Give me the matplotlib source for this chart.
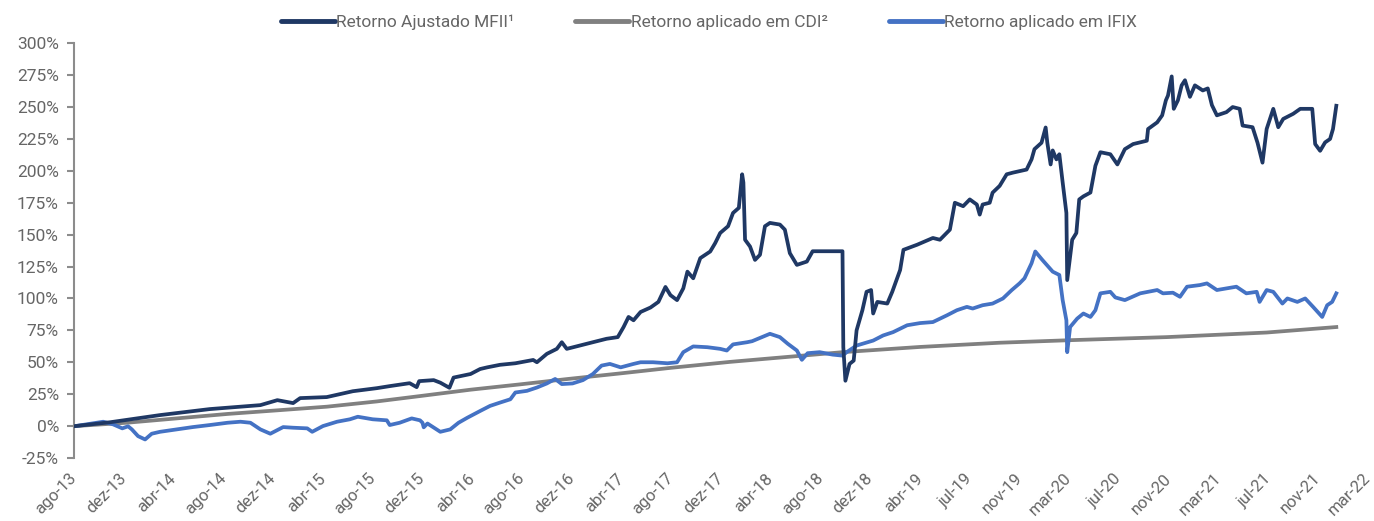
import pandas as pd
import matplotlib.pyplot as plt
from matplotlib.ticker import FuncFormatter

plt.rcParams['font.family'] = ['Roboto', 'DejaVu Sans']

# retorno ajustado MFII (%)
mfii_dates = ["2013-09-02", "2013-11-25", "2014-03-25", "2014-07-23", "2014-11-22", "2015-01-02",
              "2015-02-09", "2015-02-26", "2015-05-01", "2015-07-03", "2015-08-30", "2015-09-30",
              "2015-11-17", "2015-12-04", "2015-12-10", "2016-01-14", "2016-01-30", "2016-02-21",
              "2016-03-02", "2016-04-12", "2016-05-05", "2016-05-22", "2016-06-22", "2016-07-29",
              "2016-09-10", "2016-09-19", "2016-10-13", "2016-11-06", "2016-11-18", "2016-11-30",
              "2016-12-31", "2017-02-01", "2017-03-06", "2017-04-02", "2017-04-16", "2017-04-28",
              "2017-05-10", "2017-05-27", "2017-06-20", "2017-07-09", "2017-07-26", "2017-08-07",
              "2017-08-23", "2017-09-07", "2017-09-17", "2017-10-01", "2017-10-18", "2017-11-11",
              "2017-11-23", "2017-12-05", "2017-12-24", "2018-01-05", "2018-01-19", "2018-01-27",
              "2018-01-30", "2018-02-03", "2018-02-15", "2018-02-27", "2018-03-11", "2018-03-23",
              "2018-04-04", "2018-04-28", "2018-05-10", "2018-05-22", "2018-06-08", "2018-07-02",
              "2018-07-16", "2018-09-26", "2018-09-28", "2018-10-03", "2018-10-13", "2018-10-23",
              "2018-10-30", "2018-11-13", "2018-11-23", "2018-12-04", "2018-12-09", "2018-12-19",
              "2019-01-12", "2019-01-24", "2019-02-12", "2019-02-20", "2019-03-25", "2019-05-02",
              "2019-05-19", "2019-06-12", "2019-06-24", "2019-07-14", "2019-07-30", "2019-08-16",
              "2019-08-23", "2019-08-30", "2019-09-16", "2019-09-23", "2019-10-10", "2019-10-27",
              "2019-11-11", "2019-12-14", "2019-12-26", "2020-01-02", "2020-01-19", "2020-01-29",
              "2020-02-02", "2020-02-10", "2020-02-15", "2020-02-24", "2020-03-02", "2020-03-10",
              "2020-03-19", "2020-03-21", "2020-04-02", "2020-04-12", "2020-04-19", "2020-04-29",
              "2020-05-16", "2020-05-28", "2020-06-09", "2020-07-03", "2020-07-20", "2020-08-07",
              "2020-08-27", "2020-09-29", "2020-10-02", "2020-10-24", "2020-11-05", "2020-11-14",
              "2020-11-19", "2020-11-28", "2020-12-03", "2020-12-13", "2020-12-22", "2020-12-30",
              "2021-01-11", "2021-01-23", "2021-02-11", "2021-02-23", "2021-03-05", "2021-03-17",
              "2021-04-09", "2021-04-24", "2021-05-11", "2021-05-18", "2021-06-11", "2021-06-23",
              "2021-07-05", "2021-07-15", "2021-07-31", "2021-08-12", "2021-08-24", "2021-09-17",
              "2021-10-04", "2021-11-02", "2021-11-09", "2021-11-21", "2021-12-03", "2021-12-15",
              "2021-12-22", "2021-12-30"]
mfii_vals = [0, 3, 8.6, 13.3, 16.4, 20.3,
             18, 21.9, 22.7, 27.3, 29.7, 31.3,
             33.6, 30.5, 35.2, 36, 34, 30,
             38, 40.8, 44.7, 46, 48, 49.2,
             51.8, 50, 56.6, 60.5, 65.7, 60.5,
             63.1, 65.7, 68.4, 69.7, 77.6, 85.5,
             82.9, 89.4, 92.9, 97.3, 109, 102.6,
             98.7, 107.9, 121, 115.8, 131.6, 136.8,
             143.4, 151.3, 156.6, 167, 171, 197.3,
             190.8, 146, 140.7, 130.2, 134.2, 156.6,
             159.2, 157.9, 153.9, 135.5, 126.3, 128.9,
             137, 137, 61.8, 35.5, 48.7, 51.3,
             75, 90.8, 105.2, 106.6, 88.2, 97.3,
             96, 105.2, 122.3, 138.1, 142.1, 147.4,
             146, 153.9, 175, 172.3, 177.6, 173.6,
             165.7, 173.6, 175, 182.9, 188.2, 197.3,
             198.6, 201, 209, 217, 222, 234,
             222, 205, 216, 209, 213, 191,
             167, 114.4, 146, 151.3, 177.6, 180,
             183, 204, 214.6, 213, 205, 217,
             221, 223.6, 232.8, 238, 243.5, 255.3,
             259, 274, 248.6, 255.3, 267, 271,
             258, 267, 263, 264.6, 251.5, 243.5,
             246, 250, 248.6, 235.5, 234.2, 222,
             206.4, 232.8, 248.6, 234.2, 240.7, 244.7,
             248.6, 248.6, 221, 215.7, 222.3, 225,
             232.8, 251]

# retorno aplicado em CDI (%)
cdi_dates = ["2013-09-02", "2014-01-04", "2014-05-04", "2014-09-04", "2015-01-01", "2015-05-02",
             "2015-08-30", "2015-12-12", "2016-04-12", "2016-08-10", "2016-11-30", "2017-04-09",
             "2017-08-07", "2017-12-29", "2018-04-04", "2018-09-26", "2019-04-01", "2019-10-10",
             "2020-03-28", "2020-11-16", "2021-07-15", "2021-12-30"]
cdi_vals = [0, 2.6, 6, 9.5, 12.3, 15.2,
            19.3, 23.5, 28.5, 32.7, 36.8, 41.3,
            45.6, 50.3, 53, 57.9, 62, 65.3,
            67.3, 69.7, 73.3, 77.6]

# retorno aplicado em IFIX (%)
ifix_dates = ["2013-09-02", "2013-10-08", "2013-11-08", "2013-12-02", "2013-12-24", "2014-01-07",
              "2014-01-16", "2014-01-31", "2014-02-17", "2014-03-05", "2014-03-25", "2014-05-04",
              "2014-06-12", "2014-07-23", "2014-09-04", "2014-10-05", "2014-10-29", "2014-11-22",
              "2014-12-16", "2015-01-16", "2015-02-09", "2015-03-15", "2015-03-27", "2015-04-22",
              "2015-05-26", "2015-06-26", "2015-07-15", "2015-08-20", "2015-09-23", "2015-09-30",
              "2015-10-24", "2015-11-22", "2015-12-12", "2015-12-18", "2015-12-21", "2015-12-30",
              "2016-01-30", "2016-02-23", "2016-03-14", "2016-04-04", "2016-05-05", "2016-05-29",
              "2016-06-22", "2016-07-17", "2016-07-29", "2016-08-26", "2016-09-19", "2016-10-13",
              "2016-11-02", "2016-11-18", "2016-12-14", "2017-01-08", "2017-02-01", "2017-02-22",
              "2017-03-14", "2017-04-09", "2017-05-10", "2017-05-27", "2017-06-26", "2017-07-31",
              "2017-08-23", "2017-09-07", "2017-10-01", "2017-11-04", "2017-12-05", "2017-12-21",
              "2018-01-05", "2018-02-08", "2018-02-20", "2018-04-04", "2018-04-28", "2018-05-17",
              "2018-06-08", "2018-06-20", "2018-07-04", "2018-08-02", "2018-09-02", "2018-09-26",
              "2018-10-06", "2018-10-30", "2018-12-09", "2019-01-02", "2019-01-26", "2019-03-01",
              "2019-04-01", "2019-05-02", "2019-06-05", "2019-06-29", "2019-07-23", "2019-08-06",
              "2019-08-30", "2019-09-23", "2019-10-18", "2019-11-08", "2019-11-27", "2019-12-09",
              "2019-12-26", "2020-01-04", "2020-01-21", "2020-02-15", "2020-03-02", "2020-03-10",
              "2020-03-19", "2020-03-21", "2020-03-28", "2020-04-14", "2020-04-29", "2020-05-16",
              "2020-05-28", "2020-06-09", "2020-07-03", "2020-07-15", "2020-08-07", "2020-09-13",
              "2020-10-24", "2020-11-07", "2020-12-01", "2020-12-18", "2021-01-04", "2021-02-04",
              "2021-02-21", "2021-03-17", "2021-04-09", "2021-05-03", "2021-05-27", "2021-06-21",
              "2021-06-28", "2021-07-15", "2021-07-31", "2021-08-22", "2021-09-03", "2021-09-27",
              "2021-10-16", "2021-11-04", "2021-11-26", "2021-12-08", "2021-12-20", "2021-12-30"]
ifix_vals = [0, 1.8, 3.4, 1.3, -1.8, -0.2,
             -2.6, -7.9, -10.5, -6, -4.5, -2.6,
             -0.8, 0.8, 2.6, 3.4, 2.6, -2.6,
             -6, -0.8, -1.3, -1.8, -4.5, 0,
             3.4, 5.3, 7.3, 5.3, 4.5, 0.8,
             2.6, 6, 4.5, 2.6, -1, 2,
             -4.5, -2.6, 2.6, 6.5, 11.8, 15.8,
             18.4, 21, 26.3, 27.6, 30.2, 33.4,
             36.9, 32.9, 33.4, 36, 40.8, 47.4,
             48.7, 46, 48.7, 50, 50, 49.2,
             50, 57.9, 62.4, 61.8, 60.5, 59.2,
             64, 65.7, 66.5, 72.3, 69.7, 64.5,
             59.2, 51.9, 57.1, 57.9, 56, 55.2,
             57.9, 63.1, 67, 71, 73.6, 79,
             80.7, 81.5, 86.8, 90.8, 93.4, 92.1,
             94.7, 96, 100, 106.5, 111.8, 115.8,
             127.6, 136.8, 130.2, 121, 118.4, 98.7,
             82.9, 57.9, 77.6, 84.2, 88.2, 85.5,
             90.8, 104, 105.2, 100.8, 98.7, 104,
             106.6, 104, 104.5, 101.3, 109.2, 110.5,
             111.8, 106.6, 107.9, 109.2, 104, 105.2,
             97.3, 106.6, 105.2, 96, 100, 97.3,
             100, 93.4, 85.5, 94.7, 97.3, 104]

tick_labels = ["ago-13", "dez-13", "abr-14", "ago-14", "dez-14", "abr-15", "ago-15", "dez-15",
               "abr-16", "ago-16", "dez-16", "abr-17", "ago-17", "dez-17", "abr-18", "ago-18",
               "dez-18", "abr-19", "jul-19", "nov-19", "mar-20", "jul-20", "nov-20", "mar-21",
               "jul-21", "nov-21", "mar-22"]

fig = plt.figure(figsize=(13.74, 5.21), dpi=100)
ax = fig.add_axes([0.054, 0.121, 0.9415, 0.796])

ax.plot(pd.to_datetime(mfii_dates), mfii_vals, color="#1F3864", lw=2.7,
        label="Retorno Ajustado MFII¹", solid_joinstyle="round", zorder=3)
ax.plot(pd.to_datetime(cdi_dates), cdi_vals, color="#808080", lw=2.7,
        label="Retorno aplicado em CDI²", zorder=2)
ax.plot(pd.to_datetime(ifix_dates), ifix_vals, color="#4472C4", lw=2.7,
        label="Retorno aplicado em IFIX", solid_joinstyle="round", zorder=2)

# excel date axis: major unit of 120 days from the first date
ticks = pd.date_range("2013-08-30", periods=len(tick_labels), freq="120D")
ax.set_xticks(ticks)
ax.set_xticklabels(tick_labels, rotation=45, ha="right", va="center", rotation_mode="anchor",
                   fontsize=12, color="#666666")
ax.set_xlim(ticks[0], ticks[-1])
ax.tick_params(axis="x", length=0, pad=13)

ax.set_ylim(-25, 300)
ax.set_yticks(range(-25, 301, 25))
ax.yaxis.set_major_formatter(FuncFormatter(lambda v, p: f"{v:.0f}%"))
ax.tick_params(axis="y", labelsize=12.5, labelcolor="#666666", color="#8c8c8c",
               length=5, width=1.5, pad=6)

for s in ["top", "right", "bottom"]:
    ax.spines[s].set_visible(False)
ax.spines["left"].set_color("#8c8c8c")
ax.spines["left"].set_linewidth(1.5)

leg = fig.legend(loc="center", bbox_to_anchor=(0.516, 0.958), ncol=3, frameon=False,
                 fontsize=12.5, handlelength=3.1, handletextpad=0.1, columnspacing=3.5)
for t in leg.get_texts():
    t.set_color("#666666")
for h in leg.get_lines():
    h.set_linewidth(3.5)
    h.set_solid_capstyle("round")

fig.savefig("out.png", dpi=100)
